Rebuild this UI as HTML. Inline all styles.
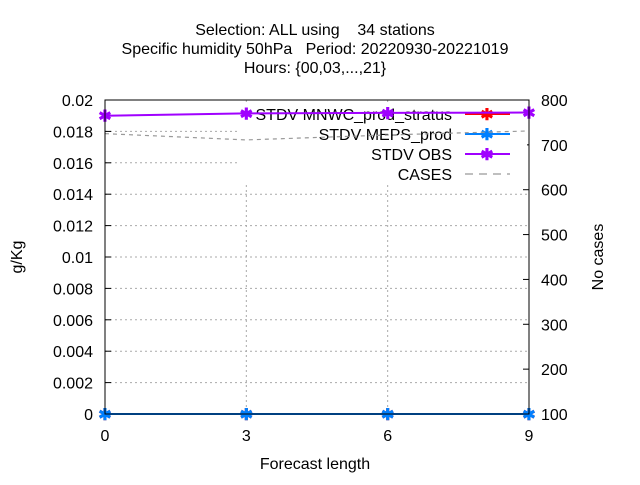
<!DOCTYPE html>
<html><head><meta charset="utf-8"><style>body{margin:0;background:#fff}svg{font-family:"Liberation Sans",sans-serif}</style></head>
<body>
<svg id="c" width="640" height="480" xmlns="http://www.w3.org/2000/svg">
<text x="315" y="35" font-size="16" text-anchor="middle" xml:space="preserve">Selection: ALL using    34 stations</text>
<text x="315" y="54" font-size="16" text-anchor="middle" xml:space="preserve">Specific humidity 50hPa   Period: 20220930-20221019</text>
<text x="315" y="73" font-size="16" text-anchor="middle">Hours: {00,03,...,21}</text>
<text x="22" y="257" font-size="16" text-anchor="middle" transform="rotate(-90 22 257)">g/Kg</text>
<text x="603" y="257" font-size="16" text-anchor="middle" transform="rotate(-90 603 257)">No cases</text>
<text x="315" y="469" font-size="16" text-anchor="middle">Forecast length</text>
<g id="grid"></g><g id="ticks"></g><g id="legend"></g><g id="series"></g>
<rect x="105" y="100" width="424" height="314" fill="none" stroke="#000"/>
</svg>
<script>
const xCats=[0,3,6,9];
const yTicks=[0,0.002,0.004,0.006,0.008,0.01,0.012,0.014,0.016,0.018,0.02];
const yTickLabels=["0","0.002","0.004","0.006","0.008","0.01","0.012","0.014","0.016","0.018","0.02"];
const y2Ticks=[100,200,300,400,500,600,700,800];
const mnwc=[0,0,0,0];
const meps=[0,0,0,0];
const obs=[0.0190,0.01915,0.01918,0.0192];
const cases=[725,711,722,731];
const NS="http://www.w3.org/2000/svg";
const L=105,R=529,T=100,B=414;
const X=v=>L+(v-0)/9*(R-L);
const Y=v=>B-v/0.02*(B-T);
const Y2=v=>B-(v-100)/700*(B-T);
function mk(t,a,p){const e=document.createElementNS(NS,t);for(const k in a)e.setAttribute(k,a[k]);document.getElementById(p).appendChild(e);return e;}
yTicks.forEach((v,i)=>{
 if(i>0&&i<yTicks.length-1){const g=mk('line',{x1:L,x2:R,y1:Y(v),y2:Y(v),stroke:'#aaa','stroke-dasharray':'2,3'},'grid');
 
 }
 mk('line',{x1:L,x2:L+6,y1:Y(v),y2:Y(v),stroke:'#000'},'ticks');
 const t=mk('text',{x:L-12,y:Y(v)+6,'font-size':16,'text-anchor':'end'},'ticks');t.textContent=yTickLabels[i];
 
 
});
y2Ticks.forEach(v=>{
 mk('line',{x1:R-6,x2:R,y1:Y2(v),y2:Y2(v),stroke:'#000'},'ticks');
 const t=mk('text',{x:R+12,y:Y2(v)+6,'font-size':16},'ticks');t.textContent=v;
 
 
});
xCats.forEach((v,i)=>{
 if(i>0&&i<xCats.length-1){const g=mk('line',{x1:X(v),x2:X(v),y1:T,y2:B,stroke:'#aaa','stroke-dasharray':'2,3'},'grid');
 
 }
 mk('line',{x1:X(v),x2:X(v),y1:B,y2:B-6,stroke:'#000'},'ticks');
 const t=mk('text',{x:X(v),y:B+27,'font-size':16,'text-anchor':'middle'},'ticks');t.textContent=v;
 
 
});
const bg=mk('rect',{x:237,y:102,width:290,height:82,fill:'#fff'},'legend');


const leg=[["STDV MNWC_prod_stratus","#ff0000",null,true],["STDV MEPS_prod","#0080ff",null,true],["STDV OBS","#a000ff",null,true],["CASES","#999","8,6",false]];
leg.forEach((l,i)=>{const y=114+i*20;
 const t=mk('text',{x:452,y:y+6,'font-size':16,'text-anchor':'end'},'legend');t.textContent=l[0];
 
 
 const a={x1:465,x2:510,y1:y,y2:y,stroke:l[1],'stroke-width':l[3]?2:1.2};if(l[2])a['stroke-dasharray']=l[2];
 mk('line',a,'legend');
 if(l[3])mk('text',{x:487,y:y+6,'font-size':16,'font-weight':'bold','text-anchor':'middle',fill:l[1]},'legend').textContent='✱';
});
function series(vals,fy,col,name,dash,marks){
 const p=mk('polyline',{points:vals.map((v,i)=>X(xCats[i])+','+fy(v)).join(' '),fill:'none',stroke:col,'stroke-width':dash?1.2:2},'series');
 if(dash)p.setAttribute('stroke-dasharray',dash);
 
 
 if(marks)vals.forEach((v,i)=>{const m=mk('text',{x:X(xCats[i]),y:fy(v)+6,'font-size':16,'font-weight':'bold','text-anchor':'middle',fill:col},'series');m.textContent='✱';
  
  });
}
series(cases,Y2,'#999','cases-line','4,4',false);
series(obs,Y,'#a000ff','stdv-obs-line',null,true);
series(mnwc,Y,'#ff0000','stdv-mnwc-line',null,true);
series(meps,Y,'#0080ff','stdv-meps-line',null,true);
</script>
</body></html>
